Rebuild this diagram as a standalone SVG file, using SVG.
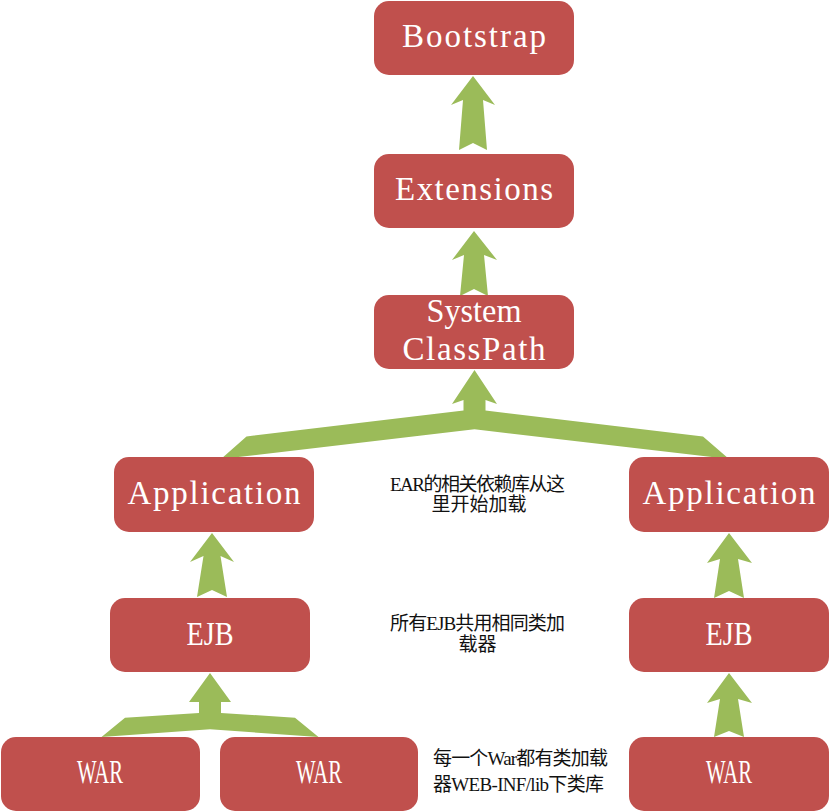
<svg xmlns="http://www.w3.org/2000/svg" width="830" height="812" viewBox="0 0 830 812">
<style>
.box{fill:#C0504D}
.lbl{fill:#FFFFFF;font-family:"Liberation Serif","DejaVu Serif",serif;font-size:33px;text-anchor:middle}
.arr{fill:#9BBB59}
.note{fill:#111111;font-family:"Liberation Serif","Noto Sans CJK SC",serif;font-size:19px;text-anchor:middle}
</style>
<rect width="830" height="812" fill="#FFFFFF"/>
<g id="connectors">
<polygon class="arr" points="473,76 495,105 483,100 487,150 473,143 459,150 463,100 451,105"/>
<polygon class="arr" points="474,231 497,260 484,255 488,296 474,289 460,296 464,255 452,260"/>
<polygon class="arr" points="474.5,370 497,404 485.5,400 485.5,410.6 703,436.5 729,459 474.5,429.3 221,459 246.5,436.5 463.5,410.6 463.5,400 452,404"/>
<polygon class="arr" points="212,533 234,562 220.5,556 227,597 212,590 197,597 203.5,556 190,562"/>
<polygon class="arr" points="729,533 752,563 738,559 744,598 729,591 714,598 720,559 707,563"/>
<polygon class="arr" points="210,673 231,702 221,702 221,713 295,717.7 318.5,737 210,729.3 101.5,737 125,717.7 199,713 199,702 189,702"/>
<polygon class="arr" points="729,673 752,703 738,699 744,737 729,731 714,737 720,699 707,703"/>
</g>
<g id="bootstrap"><rect class="box" x="374" y="1" width="200" height="74" rx="15"/><text class="lbl" x="474" y="47" textLength="144" lengthAdjust="spacing">Bootstrap</text></g>
<g id="extensions"><rect class="box" x="374" y="154" width="200" height="74" rx="15"/><text class="lbl" x="474" y="200" textLength="158" lengthAdjust="spacing">Extensions</text></g>
<g id="system"><rect class="box" x="374" y="295" width="200" height="74" rx="15"/><text class="lbl" x="474" y="322" textLength="95" lengthAdjust="spacingAndGlyphs">System</text><text class="lbl" x="474" y="360" textLength="143" lengthAdjust="spacing">ClassPath</text></g>
<g id="app-left"><rect class="box" x="114" y="457" width="200" height="75" rx="15"/><text class="lbl" x="214" y="504" textLength="173" lengthAdjust="spacing">Application</text></g>
<g id="app-right"><rect class="box" x="629" y="457" width="200" height="75" rx="15"/><text class="lbl" x="729" y="504" textLength="173" lengthAdjust="spacing">Application</text></g>
<g id="ejb-left"><rect class="box" x="110" y="598" width="200" height="74" rx="15"/><text class="lbl" x="210" y="645" textLength="47" lengthAdjust="spacingAndGlyphs">EJB</text></g>
<g id="ejb-right"><rect class="box" x="629" y="598" width="200" height="74" rx="15"/><text class="lbl" x="729" y="645" textLength="47" lengthAdjust="spacingAndGlyphs">EJB</text></g>
<g id="war1"><rect class="box" x="1" y="737" width="199" height="74" rx="15"/><text class="lbl" x="100" y="783" textLength="46" lengthAdjust="spacingAndGlyphs">WAR</text></g>
<g id="war2"><rect class="box" x="220" y="737" width="198" height="74" rx="15"/><text class="lbl" x="319" y="783" textLength="46" lengthAdjust="spacingAndGlyphs">WAR</text></g>
<g id="war3"><rect class="box" x="629" y="737" width="200" height="74" rx="15"/><text class="lbl" x="729" y="783" textLength="46" lengthAdjust="spacingAndGlyphs">WAR</text></g>
<g id="note-ear"><text class="note" x="477.5" y="491" textLength="175">EAR的相关依赖库从这</text><text class="note" x="479" y="511">里开始加载</text></g>
<g id="note-ejb"><text class="note" x="477.5" y="630" textLength="175">所有EJB共用相同类加</text><text class="note" x="477.5" y="651">载器</text></g>
<g id="note-war"><text class="note" x="520.5" y="765" textLength="175">每一个War都有类加载</text><text class="note" x="518.5" y="791" textLength="171">器WEB-INF/lib下类库</text></g>
</svg>
